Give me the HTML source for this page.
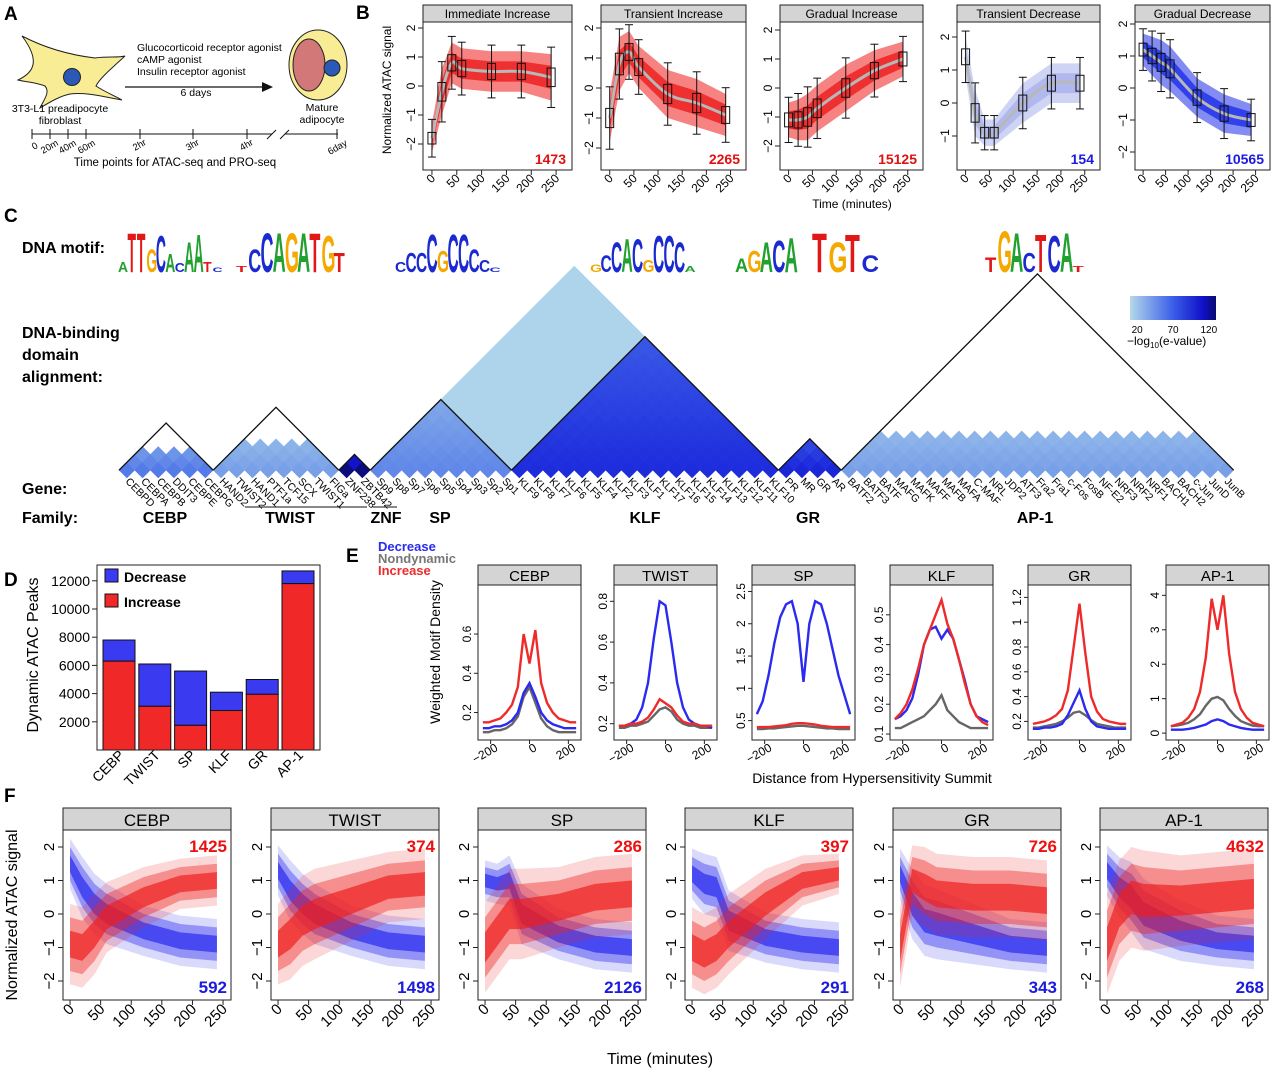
<!DOCTYPE html>
<html><head><meta charset="utf-8"><style>
html,body{margin:0;padding:0;background:#fff}
svg{display:block;font-family:"Liberation Sans",Arial,sans-serif}
</style></head><body>
<svg id="fig" width="1280" height="1071" viewBox="0 0 1280 1071" xmlns="http://www.w3.org/2000/svg">
<defs>
<linearGradient id="cbar" x1="0" x2="1" y1="0" y2="0">
<stop offset="0" stop-color="#b4d8ea"/><stop offset="0.5" stop-color="#3a5ee8"/><stop offset="0.85" stop-color="#1010c8"/><stop offset="1" stop-color="#0a0a70"/>
</linearGradient>
</defs>
<g font-weight="bold" font-size="19">
<text x="4" y="20">A</text>
<text x="356" y="19">B</text>
<text x="4" y="222">C</text>
<text x="4" y="586">D</text>
<text x="346" y="562">E</text>
<text x="4" y="802">F</text>
</g>
<g font-size="10.5">
<path d="M22,36 C45,48 70,55 95,58 C108,56 118,58 125,56 C112,68 100,78 96,86 C105,92 115,96 122,100 C100,96 85,92 70,94 C60,96 50,102 40,108 C45,98 50,92 45,86 C35,82 25,82 18,80 C35,72 40,60 22,36 Z" fill="#f8ec94" stroke="#222" stroke-width="1"/>
<circle cx="72" cy="77" r="8.5" fill="#2b59b8" stroke="#222"/>
<text x="60" y="112" text-anchor="middle">3T3-L1 preadipocyte</text>
<text x="60" y="124" text-anchor="middle">fibroblast</text>
<line x1="125" y1="87" x2="268" y2="87" stroke="#111" stroke-width="1.3"/>
<path d="M262,82 L273,87 L262,92 Z" fill="#111"/>
<text x="137" y="51">Glucocorticoid receptor agonist</text>
<text x="137" y="63">cAMP agonist</text>
<text x="137" y="75">Insulin receptor agonist</text>
<text x="196" y="96" text-anchor="middle">6 days</text>
<ellipse cx="318" cy="65" rx="29" ry="35" fill="#f8ec94" stroke="#222"/>
<ellipse cx="309" cy="65" rx="16" ry="26" fill="#d27878" stroke="#222"/>
<circle cx="332" cy="68" r="8" fill="#2b59b8" stroke="#222"/>
<text x="322" y="111" text-anchor="middle">Mature</text>
<text x="322" y="123" text-anchor="middle">adipocyte</text>
<g stroke="#111" stroke-width="1">
<line x1="32" y1="134" x2="272" y2="134"/><line x1="285" y1="134" x2="338" y2="134"/>
<line x1="267" y1="139" x2="276" y2="130"/><line x1="280" y1="139" x2="289" y2="130"/>
<line x1="32" y1="129" x2="32" y2="139"/><line x1="50" y1="129" x2="50" y2="139"/><line x1="68" y1="129" x2="68" y2="139"/><line x1="86" y1="129" x2="86" y2="139"/><line x1="140" y1="129" x2="140" y2="139"/><line x1="193" y1="129" x2="193" y2="139"/><line x1="247" y1="129" x2="247" y2="139"/><line x1="337" y1="129" x2="337" y2="139"/>
</g>
<g font-size="9.5">
<text transform="translate(34,150) rotate(-30)">0</text>
<text transform="translate(43,154) rotate(-30)">20m</text>
<text transform="translate(61,154) rotate(-30)">40m</text>
<text transform="translate(80,154) rotate(-30)">60m</text>
<text transform="translate(135,151) rotate(-30)">2hr</text>
<text transform="translate(188,151) rotate(-30)">3hr</text>
<text transform="translate(242,151) rotate(-30)">4hr</text>
<text transform="translate(330,155) rotate(-30)">6day</text>
</g>
<text x="175" y="166" text-anchor="middle" font-size="11.5">Time points for ATAC-seq and PRO-seq</text>
</g>
<g id="root"></g>
</svg>
<script>
const NS='http://www.w3.org/2000/svg';
const root=document.getElementById('root');
function mk(tag,attrs,parent){const e=document.createElementNS(NS,tag);for(const k in attrs)e.setAttribute(k,attrs[k]);(parent||root).appendChild(e);return e;}
function txt(x,y,s,attrs,parent){const e=mk('text',Object.assign({x:x,y:y},attrs||{}),parent);e.textContent=s;return e;}
function smooth(p){let d='M'+p[0][0]+','+p[0][1];for(let i=0;i<p.length-1;i++){const p0=p[i-1]||p[i],p1=p[i],p2=p[i+1],p3=p[i+2]||p2;d+=' C'+(p1[0]+(p2[0]-p0[0])/6)+','+(p1[1]+(p2[1]-p0[1])/6)+' '+(p2[0]-(p3[0]-p1[0])/6)+','+(p2[1]-(p3[1]-p1[1])/6)+' '+p2[0]+','+p2[1];}return d;}

/* ---------------- Panel B data ---------------- */
const bTimes=[0,20,40,60,120,180,240];
const bTitles=['Immediate Increase','Transient Increase','Gradual Increase','Transient Decrease','Gradual Decrease'];
const bMeans=[
 [-1.8,-0.2,0.8,0.6,0.5,0.5,0.3],
 [-1.0,0.8,1.2,0.7,-0.2,-0.5,-0.9],
 [-1.1,-1.1,-1.0,-0.7,0.0,0.6,1.0],
 [1.4,-0.3,-0.9,-0.9,0.0,0.6,0.6],
 [1.2,1.0,0.8,0.6,-0.3,-0.8,-1.0]];
const bSpread=[
 [0.5,0.8,0.7,0.7,0.7,0.7,0.8],
 [0.8,0.9,0.7,0.7,0.8,0.8,0.7],
 [0.6,0.7,0.8,0.8,0.8,0.7,0.6],
 [0.6,0.7,0.4,0.4,0.6,0.6,0.6],
 [0.5,0.6,0.7,0.7,0.6,0.6,0.5]];
const bCounts=['1473','2265','15125','154','10565'];
const bYTicks=[[-2,-1,0,1,2],[-2,-1,0,1,2],[-2,-1,0,1,2],[-1,0,1,2],[-2,-1,0,1,2]];
const bXTicks=[0,50,100,150,200,250];
const bLeft=[423,601,780,957,1135],bW=[149,145,143,143,135];
const bZero=[86,88,88,103,88],bUnit=[29,30,29,33,32];
const bCol=['#ee1c1c','#ee1c1c','#ee1c1c','#a8b0ec','#1c2ee8'];
const bNumCol=['#e01010','#e01010','#e01010','#1a1ae0','#1a1ae0'];

for(let p=0;p<5;p++){
 const g=mk('g',{});
 
 
 const L=bLeft[p],W=bW[p],T=22,B=170;
 const X=t=>L+(t+18)/300*W, Y=v=>bZero[p]-v*bUnit[p];
 const hd=mk('rect',{x:L,y:5,width:W,height:17,fill:'#d4d4d4',stroke:'#222','stroke-width':1},g);
 
 
 const ht=txt(L+W/2,18,bTitles[p],{'text-anchor':'middle','font-size':12},g);
 
 
 const m=bMeans[p],s=bSpread[p];
 const up=bTimes.map((t,i)=>[X(t),Y(m[i]+s[i])]),lo=bTimes.map((t,i)=>[X(t),Y(m[i]-s[i])]).reverse();
 const band=mk('polygon',{points:up.concat(lo).map(q=>q.join(',')).join(' '),fill:bCol[p],opacity:0.55},g);
 
 
 const up2=bTimes.map((t,i)=>[X(t),Y(m[i]+s[i]*0.5)]),lo2=bTimes.map((t,i)=>[X(t),Y(m[i]-s[i]*0.5)]).reverse();
 const band2=mk('polygon',{points:up2.concat(lo2).map(q=>q.join(',')).join(' '),fill:bCol[p],opacity:0.8},g);
 
 
 const sm=mk('path',{d:smooth(bTimes.map((t,i)=>[X(t),Y(m[i])])),fill:'none',stroke:'#b8b8b8','stroke-width':3},g);
 
 
 bTimes.forEach((t,i)=>{
  const bx=mk('g',{},g);
  
  
  mk('line',{x1:X(t),x2:X(t),y1:Y(m[i]+s[i]*1.3),y2:Y(m[i]-s[i]*1.3),stroke:'#111','stroke-width':1},bx);
  mk('line',{x1:X(t)-4,x2:X(t)+4,y1:Y(m[i]+s[i]*1.3),y2:Y(m[i]+s[i]*1.3),stroke:'#111'},bx);
  mk('line',{x1:X(t)-4,x2:X(t)+4,y1:Y(m[i]-s[i]*1.3),y2:Y(m[i]-s[i]*1.3),stroke:'#111'},bx);
  mk('rect',{x:X(t)-4,y:Y(m[i]+s[i]*0.4),width:8,height:s[i]*0.8*bUnit[p],fill:'none',stroke:'#111'},bx);
 });
 const fr=mk('rect',{x:L,y:T,width:W,height:B-T,fill:'none',stroke:'#222','stroke-width':1},g);
 
 
 bYTicks[p].forEach(v=>{
  mk('line',{x1:L-5,x2:L,y1:Y(v),y2:Y(v),stroke:'#222'},g);
  const tl=txt(0,0,String(v).replace('-','\u2212'),{transform:'translate('+(L-8)+','+Y(v)+') rotate(-90)','text-anchor':'middle','font-size':12},g);
  
  
 });
 bXTicks.forEach(v=>{
  mk('line',{x1:X(v),x2:X(v),y1:B,y2:B+5,stroke:'#222'},g);
  const tl=txt(0,0,String(v),{transform:'translate('+(X(v)+4)+','+(B+9)+') rotate(-45)','text-anchor':'end','font-size':12},g);
  
  
 });
 const ct=txt(L+W-6,B-6,bCounts[p],{'text-anchor':'end','font-size':14,'font-weight':'bold',fill:bNumCol[p]},g);
 
 
}
let t0=txt(0,0,'Normalized ATAC signal',{transform:'translate(391,90) rotate(-90)','text-anchor':'middle','font-size':12});


t0=txt(852,208,'Time (minutes)',{'text-anchor':'middle','font-size':12});



/* ---------------- Panel C ---------------- */
const genes=['CEBPD','CEBPA','CEBPB','DDIT3','CEBPE','CEBPG','HAND2','TWIST2','HAND1','PTF1a','TCF15','SCX','TWIST1','FIGa','ZNF238','ZBTB42','Sp9','Sp8','Sp7','Sp6','Sp5','Sp4','Sp3','Sp2','Sp1','KLF9','KLF8','KLF7','KLF6','KLF5','KLF4','KLF2','KLF3','KLF1','KLF17','KLF16','KLF15','KLF14','KLF13','KLF12','KLF11','KLF10','PR','MR','GR','AR','BATF2','BATF3','BATF','MAFG','MAFK','MAFF','MAFB','MAFA','C-MAF','NRL','JDP2','ATF3','Fra2','Fra1','c-Fos','FosB','NF-E2','NRF3','NRF2','NRF1','BACH1','BACH2','c-Jun','JunD','JunB'];
const geneFamily=[0,0,0,0,0,0,1,1,1,1,1,1,1,1,2,2,3,3,3,3,3,3,3,3,3,4,4,4,4,4,4,4,4,4,4,4,4,4,4,4,4,4,5,5,5,5,6,6,6,6,6,6,6,6,6,6,6,6,6,6,6,6,6,6,6,6,6,6,6,6,6];
const famNames=['CEBP','TWIST','ZNF','SP','KLF','GR','AP-1'];
const famWithin=[60,45,135,55,100,105,45];
const famDepth=[3,4,2,9,17,4,5];
const crossSPKLF=22;
const cX0=119,cW=15.7,cBase=478;
function cmap(v){
 if(v<=0)return '#ffffff';
 const st=[[20,[178,216,234]],[45,[120,160,232]],[70,[62,98,232]],[100,[30,44,220]],[120,[18,18,196]],[140,[10,10,100]]];
 if(v<=st[0][0])return 'rgb('+st[0][1]+')';
 for(let i=0;i<st.length-1;i++){if(v<=st[i+1][0]){const f=(v-st[i][0])/(st[i+1][0]-st[i][0]);return 'rgb('+st[i][1].map((c,k)=>Math.round(c+(st[i+1][1][k]-c)*f))+')';}}
 return 'rgb('+st[st.length-1][1]+')';
}
const hm=mk('g',{});


for(let i=0;i<genes.length;i++)for(let j=i;j<genes.length;j++){
 const fi=geneFamily[i],fj=geneFamily[j];let v=0;
 if(fi===fj){ if(j-i<famDepth[fi]) v=famWithin[fi]*(1-0.25*(j-i)/famDepth[fi]); }
 else if((fi===3&&fj===4)) v=crossSPKLF;
 if(v<=0)continue;
 const cx=cX0+(i+j+1)*cW/2,cy=cBase-(j-i)*cW/2-cW/2,h=cW/2+0.3;
 const c=mk('polygon',{points:(cx)+','+(cy-h)+' '+(cx+h)+','+cy+' '+cx+','+(cy+h)+' '+(cx-h)+','+cy,fill:cmap(v)},hm);
 
 
}
for(let f=0;f<famNames.length;f++){
 const a=geneFamily.indexOf(f),b=geneFamily.lastIndexOf(f);
 const ol=mk('polyline',{points:(cX0+a*cW)+','+(cBase-cW/2)+' '+(cX0+(a+b+1)*cW/2)+','+(cBase-(b-a)*cW/2-cW)+' '+(cX0+(b+1)*cW)+','+(cBase-cW/2),fill:'none',stroke:'#111','stroke-width':1.3},hm);
 
 
}
genes.forEach((gname,i)=>{
 const gl=txt(0,0,gname,{transform:'translate('+(cX0+(i+0.5)*cW-2)+','+(cBase+4)+') rotate(45)','font-size':10.5},hm);
 
 
});
const famLabelX=[165,290,386,440,645,808,1035];
famNames.forEach((f,k)=>{
 const fl=txt(famLabelX[k],523,f,{'text-anchor':'middle','font-size':16,'font-weight':'bold'});
 
 
});
let ln=mk('line',{x1:245,x2:367,y1:507,y2:507,stroke:'#111'});


ln=mk('line',{x1:373,x2:397,y1:507,y2:507,stroke:'#111'});


[['DNA motif:',253],['DNA-binding',338],['domain',360],['alignment:',382],['Gene:',494],['Family:',523]].forEach(r=>{
 const l=txt(22,r[1],r[0],{'font-size':16,'font-weight':'bold'});
 
 
});
const cb=mk('rect',{x:1130,y:296,width:86,height:24,fill:'url(#cbar)'});


const cbTicks=[20,70,120];
cbTicks.forEach(v=>{const tl=txt(1130+(v-10)/120*86,333,String(v),{'text-anchor':'middle','font-size':10});});
const cbt=mk('text',{x:1127,y:345,'font-size':12});
cbt.innerHTML='\u2212log<tspan font-size="8" dy="3">10</tspan><tspan dy="-3">(e-value)</tspan>';



/* motif logos */
const motifX=[118,236,395,590,735,812,985];
const motifW=[104,110,105,105,62,66,100];
const motifs=[
 [['A',14],['T',52],['T',52],['G',30],['C',48],['A',24],['C',12],['A',40],['A',50],['T',14],['C',6]],
 [['T',8],['C',30],['C',52],['A',52],['G',52],['A',52],['T',52],['G',48],['T',26]],
 [['C',14],['C',26],['C',26],['C',50],['G',28],['C',50],['C',50],['C',30],['C',16],['C',6]],
 [['G',10],['C',22],['C',40],['A',44],['C',44],['G',16],['C',48],['C',48],['C',40],['A',8]],
 [['A',18],['G',28],['A',40],['C',42],['A',46]],
 [['T',52],['G',40],['T',50],['C',22]],
 [['T',20],['G',54],['A',52],['C',26],['T',50],['C',48],['A',52],['T',8]]];
const letCol={A:'#22a030',C:'#1a2ad0',G:'#f5a800',T:'#e01818'};
motifs.forEach((mo,k)=>{
 const g=mk('g',{});
 
 
 const lw=motifW[k]/mo.length;
 mo.forEach((l,i)=>{
  const sy=l[1]/13, sx=lw/9.5;
  const t=txt(0,0,l[0],{transform:'translate('+(motifX[k]+i*lw)+',272) scale('+sx+','+sy+')','font-size':14,'font-weight':'bold',fill:letCol[l[0]]},g);
  
  
 });
});

/* ---------------- Panel D ---------------- */
const dCats=['CEBP','TWIST','SP','KLF','GR','AP-1'];
const dTotal=[7800,6100,5600,4100,5000,12700];
const dIncrease=[6300,3100,1750,2800,3950,11800];
const dTicks=[2000,4000,6000,8000,10000,12000];
const dY=v=>750-v*0.0141, dX=i=>103+i*35.8;
const dg=mk('g',{});


dCats.forEach((c,i)=>{
 const r1=mk('rect',{x:dX(i),y:dY(dTotal[i]),width:32,height:dY(dIncrease[i])-dY(dTotal[i]),fill:'#3a3af0',stroke:'#111'},dg);
 
 
 const r2=mk('rect',{x:dX(i),y:dY(dIncrease[i]),width:32,height:dY(0)-dY(dIncrease[i]),fill:'#f02828',stroke:'#111'},dg);
 
 
 const tl=txt(0,0,c,{transform:'translate('+(dX(i)+22)+',756) rotate(-45)','text-anchor':'end','font-size':14},dg);
 
 
});
let dfr=mk('rect',{x:97,y:565,width:223,height:185,fill:'none',stroke:'#222'},dg);


dTicks.forEach(v=>{mk('line',{x1:92,x2:97,y1:dY(v),y2:dY(v),stroke:'#222'},dg);const tl=txt(90,dY(v)+5,String(v),{'text-anchor':'end','font-size':14},dg);});
let lg=mk('rect',{x:105,y:569,width:13,height:13,fill:'#3a3af0',stroke:'#111'},dg);

lg=txt(124,582,'Decrease',{'font-size':14,'font-weight':'bold'},dg);

lg=mk('rect',{x:105,y:594,width:13,height:13,fill:'#f02828',stroke:'#111'},dg);

lg=txt(124,607,'Increase',{'font-size':14,'font-weight':'bold'},dg);

t0=txt(0,0,'Dynamic ATAC Peaks',{transform:'translate(38,655) rotate(-90)','text-anchor':'middle','font-size':16});


/* ---------------- Panel E ---------------- */
const eX=[-240,-210,-180,-150,-120,-90,-60,-30,0,30,60,90,120,150,180,210,240];
const eTitles=['CEBP','TWIST','SP','KLF','GR','AP-1'];
const eIncrease=[
 [.15,.15,.16,.17,.2,.24,.33,.6,.45,.62,.35,.25,.2,.17,.16,.15,.15],
 [.19,.19,.2,.2,.21,.23,.27,.32,.3,.28,.24,.21,.2,.2,.19,.19,.19],
 [.4,.4,.4,.41,.42,.43,.45,.46,.46,.45,.44,.42,.41,.4,.4,.4,.4],
 [.15,.17,.2,.25,.32,.4,.45,.5,.55,.47,.42,.35,.27,.2,.16,.14,.13],
 [.18,.19,.2,.22,.25,.3,.45,.8,1.15,.75,.4,.28,.22,.2,.19,.18,.18],
 [.2,.25,.3,.45,.7,1.2,2.2,3.9,3.0,4.0,2.3,1.2,.7,.45,.3,.25,.2]];
const eDecrease=[
 [.12,.12,.13,.13,.14,.16,.2,.3,.35,.28,.2,.16,.14,.13,.12,.12,.12],
 [.19,.19,.2,.22,.28,.4,.62,.8,.78,.6,.4,.28,.22,.2,.19,.19,.18],
 [.6,.8,1.2,1.7,2.1,2.3,2.35,2.0,1.1,2.0,2.35,2.3,2.0,1.6,1.2,.9,.6],
 [.15,.16,.18,.22,.3,.4,.45,.46,.42,.45,.42,.35,.28,.2,.16,.15,.14],
 [.14,.14,.15,.15,.16,.18,.25,.35,.45,.3,.2,.16,.15,.14,.14,.14,.14],
 [.1,.1,.1,.12,.15,.2,.25,.35,.4,.35,.25,.2,.15,.12,.1,.1,.1]];
const eNondynamic=[
 [.1,.1,.11,.11,.12,.14,.18,.28,.33,.25,.17,.13,.11,.1,.1,.1,.1],
 [.18,.18,.19,.19,.2,.21,.24,.27,.28,.26,.22,.2,.19,.19,.18,.18,.18],
 [.37,.37,.38,.38,.39,.4,.41,.42,.42,.41,.4,.39,.38,.38,.37,.37,.37],
 [.12,.12,.13,.14,.15,.16,.18,.2,.23,.18,.16,.14,.13,.12,.12,.12,.12],
 [.15,.15,.16,.17,.18,.2,.23,.27,.28,.25,.21,.18,.17,.16,.15,.15,.15],
 [.2,.22,.25,.3,.4,.55,.8,1.0,1.05,.95,.7,.5,.35,.28,.22,.2,.2]];
const eYTicks=[[0.2,0.4,0.6],[0.2,0.4,0.6,0.8],[0.5,1.0,1.5,2.0,2.5],[0.1,0.2,0.3,0.4,0.5],[0.2,0.4,0.6,0.8,1.0,1.2],[0,1,2,3,4]];
const eYDom=[[0.06,0.85],[0.12,0.88],[0.2,2.6],[0.08,0.6],[0.05,1.3],[-0.2,4.3]];
const eXTicks=[-200,0,200];
const eLeft=[478,614,752,890,1028,1166],eWd=103;
for(let p=0;p<6;p++){
 const g=mk('g',{});
 
 
 const L=eLeft[p],T=585,B=740,d=eYDom[p];
 const X=x=>L+(x+265)/530*eWd, Y=v=>B-(v-d[0])/(d[1]-d[0])*(B-T);
 const hd=mk('rect',{x:L,y:565,width:eWd,height:20,fill:'#d4d4d4',stroke:'#222'},g);
 
 const ht=txt(L+eWd/2,581,eTitles[p],{'text-anchor':'middle','font-size':15},g);
 
 [[eNondynamic,'#666666','line-nondynamic'],[eDecrease,'#2a2af0','line-decrease'],[eIncrease,'#ee2a2a','line-increase']].forEach(s=>{
  const l=mk('polyline',{points:eX.map((x,i)=>X(x)+','+Y(s[0][p][i])).join(' '),fill:'none',stroke:s[1],'stroke-width':2.4},g);
  
  
 });
 const fr=mk('rect',{x:L,y:T,width:eWd,height:B-T,fill:'none',stroke:'#222'},g);
 
 eYTicks[p].forEach(v=>{mk('line',{x1:L-4,x2:L,y1:Y(v),y2:Y(v),stroke:'#222'},g);const tl=txt(0,0,String(v),{transform:'translate('+(L-7)+','+Y(v)+') rotate(-90)','text-anchor':'middle','font-size':12},g);});
 eXTicks.forEach(v=>{mk('line',{x1:X(v),x2:X(v),y1:B,y2:B+4,stroke:'#222'},g);const tl=txt(0,0,String(v).replace('-','\u2212'),{transform:'translate('+(X(v)+8)+','+(B+10)+') rotate(-30)','text-anchor':'end','font-size':12},g);});
}
[['Decrease','#2a2af0',551],['Nondynamic','#777',563],['Increase','#ee2a2a',575]].forEach(r=>{const l=txt(378,r[2],r[0],{fill:r[1],'font-size':13,'font-weight':'bold'});});
t0=txt(0,0,'Weighted Motif Density',{transform:'translate(440,652) rotate(-90)','text-anchor':'middle','font-size':14});

t0=txt(872,783,'Distance from Hypersensitivity Summit',{'text-anchor':'middle','font-size':14});


/* ---------------- Panel F ---------------- */
const fTimes=[0,20,40,60,120,180,240];
const fTitles=['CEBP','TWIST','SP','KLF','GR','AP-1'];
const fRedMean=[[-0.9,-1.0,-0.6,-0.1,0.5,0.9,1.0],[-0.9,-0.6,-0.2,0.0,0.4,0.8,0.9],[-1.0,-0.5,0.0,0.0,0.2,0.5,0.6],[-1.0,-1.2,-1.0,-0.6,0.3,1.0,1.2],[-1.0,1.0,0.8,0.6,0.5,0.5,0.4],[-0.9,0.1,0.5,0.4,0.4,0.5,0.6]];
const fRedSpread=[[0.8,0.8,0.8,0.7,0.6,0.5,0.5],[0.8,0.9,0.9,0.9,0.8,0.7,0.7],[0.9,0.9,0.9,0.9,0.8,0.8,0.8],[0.8,0.8,0.8,0.8,0.7,0.5,0.4],[0.8,0.7,0.8,0.8,0.8,0.8,0.8],[1.0,1.0,1.0,1.0,0.9,0.9,0.9]];
const fBlueMean=[[1.5,0.8,0.3,0.0,-0.5,-0.8,-0.9],[1.3,0.7,0.3,0.0,-0.5,-0.8,-0.9],[1.0,0.9,1.0,0.0,-0.6,-0.9,-1.0],[1.2,0.9,0.8,-0.2,-0.7,-0.9,-1.0],[1.2,0.3,-0.2,-0.3,-0.6,-0.9,-1.0],[1.3,0.8,0.5,0.0,-0.5,-0.8,-0.9]];
const fBlueSpread=[[0.5,0.6,0.6,0.6,0.5,0.5,0.5],[0.5,0.6,0.6,0.6,0.5,0.5,0.5],[0.4,0.4,0.5,0.6,0.5,0.5,0.5],[0.5,0.6,0.6,0.6,0.5,0.5,0.5],[0.5,0.7,0.7,0.7,0.6,0.5,0.5],[0.5,0.6,0.7,0.7,0.6,0.5,0.5]];
const fRedCount=['1425','374','286','397','726','4632'];
const fBlueCount=['592','1498','2126','291','343','268'];
const fYTicks=[-2,-1,0,1,2],fXTicks=[0,50,100,150,200,250];
const fLeft=[63,271,478,685,893,1100],fW=168;
for(let p=0;p<6;p++){
 const g=mk('g',{});
 
 
 const L=fLeft[p],T=830,B=1000;
 const X=t=>L+(t+11.5)/274.5*fW, Y=v=>914-v*33.5;
 const hd=mk('rect',{x:L,y:808,width:fW,height:22,fill:'#d4d4d4',stroke:'#222'},g);
 
 const ht=txt(L+fW/2,826,fTitles[p],{'text-anchor':'middle','font-size':17},g);
 
 [[fBlueMean,fBlueSpread,'#2a2af0','bundle-decrease'],[fRedMean,fRedSpread,'#ee2020','bundle-increase']].forEach(s=>{
  const m=s[0][p],sp=s[1][p];
  [1.5,1.0,0.5].forEach((k,ki)=>{
   const up=fTimes.map((t,i)=>[X(t),Y(m[i]+sp[i]*k)]),lo=fTimes.map((t,i)=>[X(t),Y(m[i]-sp[i]*k)]).reverse();
   const b=mk('polygon',{points:up.concat(lo).map(q=>q.join(',')).join(' '),fill:s[2],opacity:[0.18,0.4,0.7][ki]},g);
   
   
  });
 });
 const fr=mk('rect',{x:L,y:T,width:fW,height:B-T,fill:'none',stroke:'#222'},g);
 
 fYTicks.forEach(v=>{mk('line',{x1:L-5,x2:L,y1:Y(v),y2:Y(v),stroke:'#222'},g);const tl=txt(0,0,String(v).replace('-','\u2212'),{transform:'translate('+(L-9)+','+Y(v)+') rotate(-90)','text-anchor':'middle','font-size':15},g);});
 fXTicks.forEach(v=>{mk('line',{x1:X(v),x2:X(v),y1:B,y2:B+5,stroke:'#222'},g);const tl=txt(0,0,String(v),{transform:'translate('+(X(v)+5)+','+(B+10)+') rotate(-45)','text-anchor':'end','font-size':15},g);});
 const rc=txt(L+fW-4,852,fRedCount[p],{'text-anchor':'end','font-size':17,'font-weight':'bold',fill:'#ee1010'},g);
 
 const bc=txt(L+fW-4,993,fBlueCount[p],{'text-anchor':'end','font-size':17,'font-weight':'bold',fill:'#1a1ae0'},g);
 
}
t0=txt(0,0,'Normalized ATAC signal',{transform:'translate(17,915) rotate(-90)','text-anchor':'middle','font-size':16});

t0=txt(660,1064,'Time (minutes)',{'text-anchor':'middle','font-size':16});

</script>
</body></html>
